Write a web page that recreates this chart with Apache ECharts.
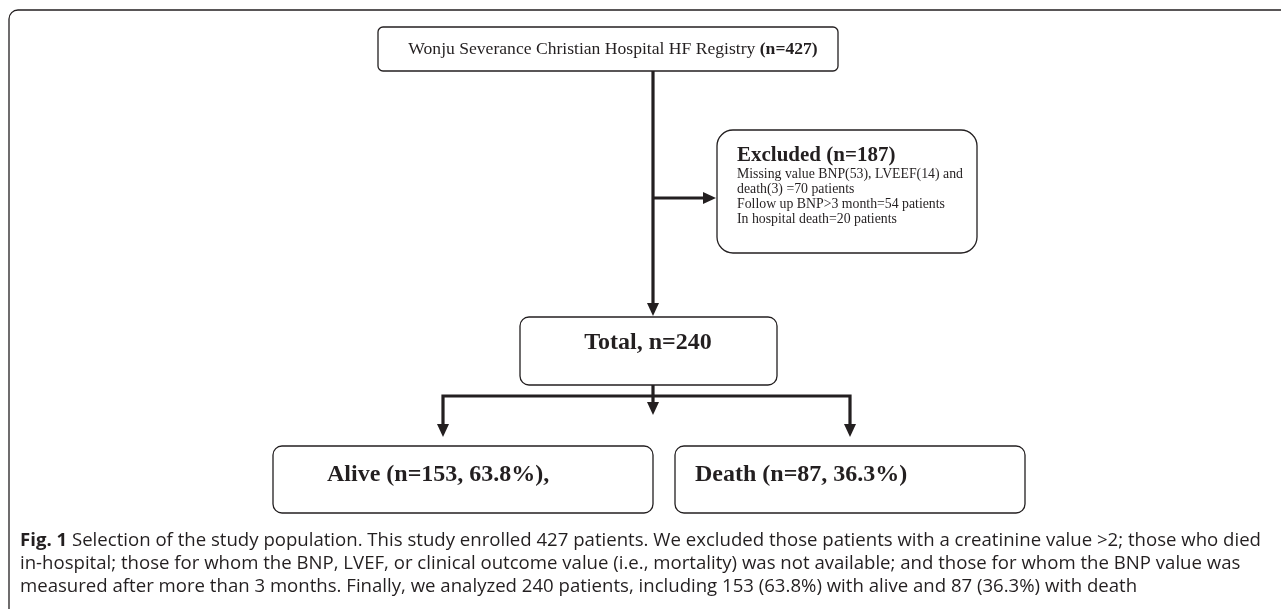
<!DOCTYPE html>
<html>
<head>
<meta charset="utf-8">
<script src="https://cdn.jsdelivr.net/npm/echarts@6/dist/echarts.min.js"></script>
<style>
  html, body { margin: 0; padding: 0; background: #fff; }
  #flow { width: 1281px; height: 609px; }
</style>
</head>
<body>
<div id="flow"></div>
<script>
// flow values
var stageNames = ['Wonju Severance Christian Hospital HF Registry', 'Excluded', 'Total', 'Alive', 'Death']
var stageCounts = [427, 187, 240, 153, 87]
var outcomePct = ['63.8', '36.3']
var exclusionLines = [
  'Missing value BNP(53), LVEEF(14) and',
  'death(3) =70 patients',
  'Follow up BNP>3 month=54 patients',
  'In hospital death=20 patients'
]
var captionLines = [
  ' Selection of the study population. This study enrolled 427 patients. We excluded those patients with a creatinine value >2; those who died',
  'in-hospital; those for whom the BNP, LVEF, or clinical outcome value (i.e., mortality) was not available; and those for whom the BNP value was',
  'measured after more than 3 months. Finally, we analyzed 240 patients, including 153 (63.8%) with alive and 87 (36.3%) with death'
]

var ink = '#231f20'
var serif = 'Liberation Serif'
var sans = 'Open Sans'

function box (x, y, w, h, r) {
  return { type: 'rect', shape: { x: x, y: y, width: w, height: h, r: r },
    style: { fill: '#fff', stroke: ink, lineWidth: 1.3 } }
}
function line (pts) {
  return { type: 'polyline', shape: { points: pts },
    style: { stroke: ink, lineWidth: 3.2, fill: null } }
}
function downHead (x, tip) {
  return { type: 'polygon', shape: { points: [[x - 6, tip - 13], [x + 6, tip - 13], [x, tip]] },
    style: { fill: ink } }
}
function rightHead (tip, y) {
  return { type: 'polygon', shape: { points: [[tip - 13, y - 6], [tip - 13, y + 6], [tip, y]] },
    style: { fill: ink } }
}
function txt (x, y, t, rich, align) {
  return { type: 'text', x: x, y: y,
    style: { text: t, rich: rich, align: align || 'left', verticalAlign: 'middle', fill: ink } }
}

var boldRich = { b: { fontFamily: serif, fontWeight: 'bold', fontSize: 24, fill: ink } }

var elements = [
  // outer frame
  box(9, 10, 1290, 620, 9),
  // top box
  box(378, 27, 460, 44, 5),
  txt(613, 49, '{n|' + stageNames[0] + ' }{b|(n=' + stageCounts[0] + ')}', {
    n: { fontFamily: serif, fontSize: 17.6, fill: ink },
    b: { fontFamily: serif, fontSize: 17.6, fontWeight: 'bold', fill: ink }
  }, 'center'),
  // main trunk
  line([[653, 71], [653, 304]]),
  downHead(653, 316),
  line([[653, 198], [704, 198]]),
  rightHead(716, 198),
  // excluded box
  box(717, 130, 260, 123, 16),
  txt(737, 156, '{t|' + stageNames[1] + ' (n=' + stageCounts[1] + ')}', {
    t: { fontFamily: serif, fontWeight: 'bold', fontSize: 21, fill: ink }
  })
]
exclusionLines.forEach(function (s, i) {
  elements.push(txt(737, 174 + i * 15, '{s|' + s + '}', {
    s: { fontFamily: serif, fontSize: 13.8, fill: ink }
  }))
})

elements = elements.concat([
  // total box
  box(520, 317, 257, 68, 9),
  txt(648, 343, '{b|' + stageNames[2] + ', n=' + stageCounts[2] + '}', boldRich, 'center'),
  // split
  line([[653, 385], [653, 404]]),
  downHead(653, 415),
  line([[443, 436 - 12], [443, 396], [850, 396], [850, 436 - 12]]),
  downHead(443, 437),
  downHead(850, 437),
  // outcome boxes
  box(273, 446, 380, 67, 9),
  txt(327, 475, '{b|' + stageNames[3] + ' (n=' + stageCounts[3] + ', ' + outcomePct[0] + '%),}', boldRich),
  box(675, 446, 350, 67, 9),
  txt(695, 475, '{b|' + stageNames[4] + ' (n=' + stageCounts[4] + ', ' + outcomePct[1] + '%)}', boldRich)
])

// caption
var capRich = {
  f: { fontFamily: sans, fontWeight: 'bold', fontSize: 18.6, fill: '#231f20' },
  c: { fontFamily: sans, fontSize: 18.6, fill: '#231f20' }
}
captionLines.forEach(function (s, i) {
  var t = (i === 0 ? '{f|Fig. 1}' : '') + '{c|' + s + '}'
  elements.push(txt(20, 541 + i * 23, t, capRich))
})

var chart = echarts.init(document.getElementById('flow'))
chart.setOption({
  backgroundColor: '#fff',
  animation: false,
  graphic: { elements: elements }
})
</script>
</body>
</html>
